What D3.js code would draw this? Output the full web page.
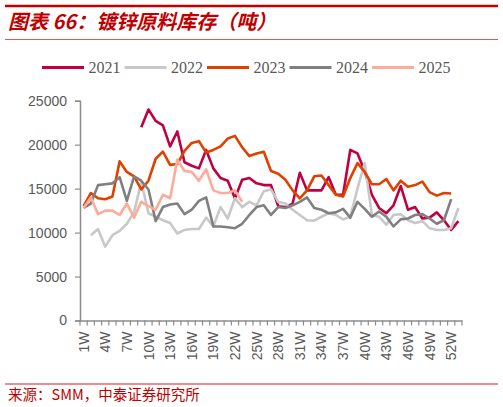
<!DOCTYPE html>
<html>
<head>
<meta charset="utf-8">
<script src="https://cdn.jsdelivr.net/npm/d3@7"></script>
<style>
  body { margin: 0; background: #fff; }
  svg { display: block; }
</style>
</head>
<body>
<svg width="503" height="407"></svg>
<script>
const weeks = d3.range(1, 54).map((i) => i + "W");
const years = ["2021", "2022", "2023", "2024", "2025"];
const colors = ["#c00040", "#c8c8c8", "#e04000", "#808080", "#ffab9b"];
const yTicks = [0, 5000, 10000, 15000, 20000, 25000];

// weekly values, tonnes (null = no data)
const s2021 = [null, null, null, null, null, null, null, null,
  21980, 24000, 22700, 22200, 19800, 21500, 18000, 17600, 17300, 19400,
  17300, 16200, 15900, 13900, 16000, 16200, 15600, 15400, 15400, 13000,
  12900, 13300, 16800, 14800, 14800, 14800, 16300, 14300, 14300, 19400,
  19000, 17000, 14300, 12800, 12200, 13100, 15300, 12600, 12900, 11600,
  11700, 12300, 11400, 10300, 11300];
const s2022 = [null, 9700, 10400, 8400, 9700, 10200, 11000, 12300, 15800,
  12200, 11800, 11400, 11100, 9900, 10300, 10400, 10400, 11700, 10700,
  12900, 11600, 13900, 12900, 13500, 13100, 14700, 14900, 13500, 13300,
  12600, 12000, 11400, 11350, 11800, 12200, 12000, 11500, 11800, 15000,
  17900, 12000, 11800, 10900, 12000, 12100, 11400, 11100, 11300, 10500,
  10300, 10300, 10500, 12800];
const s2023 = [13000, 14500, 13900, 13800, 14100, 18100, 16900, 16400,
  14900, 15900, 18400, 19200, 17700, 17800, 19300, 20200, 20400, 19100,
  19400, 19800, 20700, 21000, 19700, 18700, 19000, 19200, 17000, 16700,
  16000, 14800, 13900, 14800, 16400, 16500, 15400, 14300, 14100, 16200,
  17900, 16900, 15500, 15500, 16100, 14800, 15900, 15200, 15400, 15800,
  14600, 14200, 14500, 14450];
const s2024 = [12800, 13300, 15400, 15500, 15600, 16300, 13600, 16400,
  15900, 14900, 11300, 12900, 13200, 13300, 12100, 12600, 13600, 14000,
  10700, 10700, 10600, 10500, 11000, 12000, 12900, 13100, 12000, 12900,
  12800, 13100, 13500, 14000, 12800, 12600, 12200, 12300, 12700, 11700,
  13500, 12700, 11800, 12400, 11800, 10700, 11500, 11600, 12000, 12100,
  11600, 11000, 11400, 13800];
const s2025 = [12800, 14000, 12100, 12500, 12500, 12000, 13300, 11700,
  13500, 13000, 12600, 14300, 13900, 18300, 17000, 16900, 15900, 17200,
  14800, 14500, 14500, 14800, 13500];
const series = [s2021, s2022, s2023, s2024, s2025];

const svg = d3.select("svg");
const red = "#c00000";
const txt = "#595959";
const axisCol = "#8c8c8c";

// header
svg.append("line").attr("x1", 5).attr("x2", 498).attr("y1", 6).attr("y2", 6)
  .attr("stroke", red).attr("stroke-width", 2.4);
svg.append("text").attr("x", 8).attr("y", 29)
  .attr("font-family", "'Noto Sans CJK SC', sans-serif")
  .attr("font-size", 20).attr("font-weight", "bold").attr("font-style", "italic")
  .attr("fill", red).text("图表 66：镀锌原料库存（吨）");
svg.append("line").attr("x1", 5).attr("x2", 498).attr("y1", 39.5).attr("y2", 39.5)
  .attr("stroke", "#d85a5a").attr("stroke-width", 1.2);

// scales
const x = d3.scaleBand().domain(weeks).range([80, 462]).padding(0);
const y = d3.scaleLinear().domain([0, 25000]).range([320.5, 100.7]);
const cx = (w) => x(w) + x.bandwidth() / 2;

// y axis
const yAxis = svg.append("g").attr("transform", "translate(80,0)")
  .call(d3.axisLeft(y).tickValues(yTicks).tickFormat(d3.format("d"))
    .tickSize(5).tickPadding(8));
yAxis.select(".domain").attr("stroke", axisCol).attr("stroke-width", 1.5);
yAxis.selectAll(".tick line").attr("stroke", axisCol).attr("stroke-width", 1.2);
yAxis.selectAll("text").attr("fill", txt)
  .attr("font-family", "'Liberation Sans', Arial, sans-serif").attr("font-size", 14);

// x axis (labels every 3 weeks, ticks between categories)
const xAxis = svg.append("g").attr("transform", "translate(0,320.5)")
  .call(d3.axisBottom(x).tickValues(weeks.filter((d, i) => i % 3 === 0))
    .tickSize(0).tickPadding(0).tickSizeOuter(0));
xAxis.select(".domain").attr("stroke", axisCol).attr("stroke-width", 1.5);
xAxis.selectAll(".tick text")
  .attr("fill", txt)
  .attr("font-family", "'Liberation Sans', Arial, sans-serif").attr("font-size", 14)
  .attr("text-anchor", "end")
  .attr("transform", "rotate(-90)")
  .attr("x", -11).attr("y", 0).attr("dy", "0.36em");
const bounds = weeks.map((w) => x(w)).concat([x.range()[1]]);
xAxis.selectAll(".bound").data(bounds).enter().append("line")
  .attr("class", "bound")
  .attr("x1", (d) => d).attr("x2", (d) => d)
  .attr("y1", 0).attr("y2", 5)
  .attr("stroke", axisCol).attr("stroke-width", 1.2);

// lines
const line = d3.line()
  .defined((d) => d.v != null)
  .x((d) => cx(d.w))
  .y((d) => y(d.v));

series.forEach((s, k) => {
  const pts = s.map((v, i) => ({ w: weeks[i], v: v }));
  svg.append("path").datum(pts)
    .attr("fill", "none")
    .attr("stroke", colors[k])
    .attr("stroke-width", 2.6)
    .attr("stroke-linejoin", "round")
    .attr("d", line);
});

// legend
const leg = svg.append("g").selectAll("g").data(years).enter().append("g")
  .attr("transform", (d, i) => `translate(${42 + i * 82.5},67.5)`);
leg.append("line").attr("x1", 0).attr("x2", 42).attr("y1", 0).attr("y2", 0)
  .attr("stroke", (d, i) => colors[i]).attr("stroke-width", 3);
leg.append("text").attr("x", 46.5).attr("y", 5.5)
  .attr("font-family", "'Liberation Serif', 'Times New Roman', serif")
  .attr("font-size", 16).attr("fill", txt).text((d) => d);

// footer
svg.append("line").attr("x1", 5).attr("x2", 498).attr("y1", 384).attr("y2", 384)
  .attr("stroke", "#d02020").attr("stroke-width", 1.2);
svg.append("text").attr("x", 8).attr("y", 399.5)
  .attr("font-family", "'Noto Sans CJK SC', sans-serif")
  .attr("font-size", 14.5).attr("fill", red)
  .text("来源：SMM，中泰证券研究所");
</script>
</body>
</html>
